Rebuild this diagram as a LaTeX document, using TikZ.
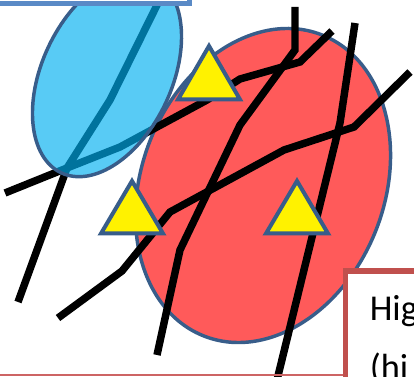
\documentclass[tikz,border=0pt]{standalone}
\usepackage{fontspec}
\setmainfont{Carlito}
\definecolor{edgeblue}{RGB}{56,93,138}
\definecolor{redfill}{RGB}{255,90,90}
\definecolor{skyfill}{RGB}{0,176,240}
\definecolor{boxblue}{RGB}{90,138,198}
\definecolor{boxred}{RGB}{192,80,77}
\definecolor{thinred}{RGB}{205,100,100}
\begin{document}
\begin{tikzpicture}[x=0.75pt,y=-0.75pt,
  blk/.style={draw=black, line width=5.6pt},
  tri/.style={draw=edgeblue, fill=yellow, line width=3pt},
  oval/.style={draw=edgeblue, line width=2.6pt}]
\useasboundingbox (0,0) rectangle (414,377);
\clip (0,0) rectangle (414,377);
% red ellipse
\draw[oval, fill=redfill, rotate around={68.7:(263,185.5)}] (263,185.5) ellipse [x radius=161.7, y radius=121.5];
% black lines
\draw[blk] (5,193) -- (67,168) -- (120,147) -- (207,100) -- (240,79) -- (300,62) -- (332,31);
\draw[blk] (162,-5) -- (110,100) -- (67,168) -- (18,302);
\draw[blk] (58,318) -- (122,271) -- (170,212) -- (284,150) -- (354,127) -- (410,72);
\draw[blk] (295,7) -- (295,50) -- (240,125) -- (180,250) -- (157,355);
\draw[blk] (355,23) -- (340,123) -- (277,380);
% blue ellipse
\fill[skyfill, fill opacity=0.655, rotate around={65:(107,75)}] (107,75) ellipse [x radius=108, y radius=65];
\draw[oval, rotate around={65:(107,75)}] (107,75) ellipse [x radius=108, y radius=65];
% top box
\draw[draw=boxblue, fill=white, line width=3.75pt] (-10,-10) rectangle (189,4);
% triangles
\draw[tri] (209,46) -- (240,99.5) -- (178,99.5) -- cycle;
\draw[tri] (132,181) -- (163,233.5) -- (101,233.5) -- cycle;
\draw[tri] (297,181) -- (328,233.5) -- (266,233.5) -- cycle;
% bottom line
\draw[thinred, line width=1.5pt] (-5,375.5) -- (420,375.5);
% text box
\draw[draw=boxred, fill=white, line width=4.1pt] (345.5,271) rectangle (430,400);
\node[anchor=base west, inner sep=0pt, font=\fontsize{27.3}{30}\selectfont] (l1) at (369.5,320.7) {Hig};
\node[anchor=base west, inner sep=0pt, font=\fontsize{27.3}{30}\selectfont] (l2) at (369.5,380) {(hi};
\end{tikzpicture}
\end{document}
